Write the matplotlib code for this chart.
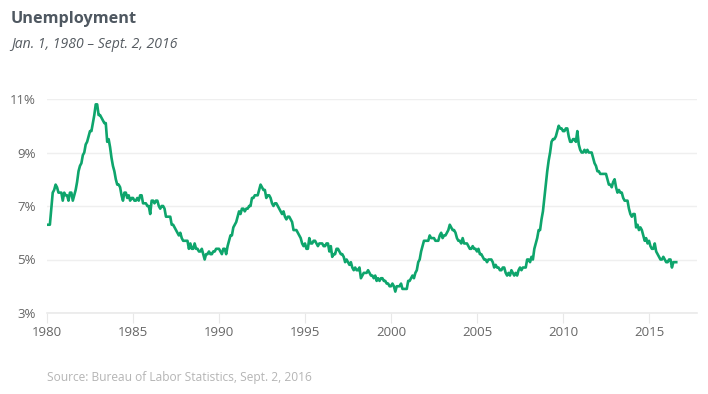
import numpy as np
import pandas as pd
import matplotlib
matplotlib.use('Agg')
import matplotlib.pyplot as plt

# monthly unemployment rate (%), Jan 1980 - Aug 2016
rates_by_year = {
    1980: [6.3, 6.3, 6.3, 6.9, 7.5, 7.6, 7.8, 7.7, 7.5, 7.5, 7.5, 7.2],
    1981: [7.5, 7.4, 7.4, 7.2, 7.5, 7.5, 7.2, 7.4, 7.6, 7.9, 8.3, 8.5],
    1982: [8.6, 8.9, 9.0, 9.3, 9.4, 9.6, 9.8, 9.8, 10.1, 10.4, 10.8, 10.8],
    1983: [10.4, 10.4, 10.3, 10.2, 10.1, 10.1, 9.4, 9.5, 9.2, 8.8, 8.5, 8.3],
    1984: [8.0, 7.8, 7.8, 7.7, 7.4, 7.2, 7.5, 7.5, 7.3, 7.4, 7.2, 7.3],
    1985: [7.3, 7.2, 7.2, 7.3, 7.2, 7.4, 7.4, 7.1, 7.1, 7.1, 7.0, 7.0],
    1986: [6.7, 7.2, 7.2, 7.1, 7.2, 7.2, 7.0, 6.9, 7.0, 7.0, 6.9, 6.6],
    1987: [6.6, 6.6, 6.6, 6.3, 6.3, 6.2, 6.1, 6.0, 5.9, 6.0, 5.8, 5.7],
    1988: [5.7, 5.7, 5.7, 5.4, 5.6, 5.4, 5.4, 5.6, 5.4, 5.4, 5.3, 5.3],
    1989: [5.4, 5.2, 5.0, 5.2, 5.2, 5.3, 5.2, 5.2, 5.3, 5.3, 5.4, 5.4],
    1990: [5.4, 5.3, 5.2, 5.4, 5.4, 5.2, 5.5, 5.7, 5.9, 5.9, 6.2, 6.3],
    1991: [6.4, 6.6, 6.8, 6.7, 6.9, 6.9, 6.8, 6.9, 6.9, 7.0, 7.0, 7.3],
    1992: [7.3, 7.4, 7.4, 7.4, 7.6, 7.8, 7.7, 7.6, 7.6, 7.3, 7.4, 7.4],
    1993: [7.3, 7.1, 7.0, 7.1, 7.1, 7.0, 6.9, 6.8, 6.7, 6.8, 6.6, 6.5],
    1994: [6.6, 6.6, 6.5, 6.4, 6.1, 6.1, 6.1, 6.0, 5.9, 5.8, 5.6, 5.5],
    1995: [5.6, 5.4, 5.4, 5.8, 5.6, 5.6, 5.7, 5.7, 5.6, 5.5, 5.6, 5.6],
    1996: [5.6, 5.5, 5.5, 5.6, 5.6, 5.3, 5.5, 5.1, 5.2, 5.2, 5.4, 5.4],
    1997: [5.3, 5.2, 5.2, 5.1, 4.9, 5.0, 4.9, 4.8, 4.9, 4.7, 4.6, 4.7],
    1998: [4.6, 4.6, 4.7, 4.3, 4.4, 4.5, 4.5, 4.5, 4.6, 4.5, 4.4, 4.4],
    1999: [4.3, 4.4, 4.2, 4.3, 4.2, 4.3, 4.3, 4.2, 4.2, 4.1, 4.1, 4.0],
    2000: [4.0, 4.1, 4.0, 3.8, 4.0, 4.0, 4.0, 4.1, 3.9, 3.9, 3.9, 3.9],
    2001: [4.2, 4.2, 4.3, 4.4, 4.3, 4.5, 4.6, 4.9, 5.0, 5.3, 5.5, 5.7],
    2002: [5.7, 5.7, 5.7, 5.9, 5.8, 5.8, 5.8, 5.7, 5.7, 5.7, 5.9, 6.0],
    2003: [5.8, 5.9, 5.9, 6.0, 6.1, 6.3, 6.2, 6.1, 6.1, 6.0, 5.8, 5.7],
    2004: [5.7, 5.6, 5.8, 5.6, 5.6, 5.6, 5.5, 5.4, 5.4, 5.5, 5.4, 5.4],
    2005: [5.3, 5.4, 5.2, 5.2, 5.1, 5.0, 5.0, 4.9, 5.0, 5.0, 5.0, 4.9],
    2006: [4.7, 4.8, 4.7, 4.7, 4.6, 4.6, 4.7, 4.7, 4.5, 4.4, 4.5, 4.4],
    2007: [4.6, 4.5, 4.4, 4.5, 4.4, 4.6, 4.7, 4.6, 4.7, 4.7, 4.7, 5.0],
    2008: [5.0, 4.9, 5.1, 5.0, 5.4, 5.6, 5.8, 6.1, 6.1, 6.5, 6.8, 7.3],
    2009: [7.8, 8.3, 8.7, 9.0, 9.4, 9.5, 9.5, 9.6, 9.8, 10.0, 9.9, 9.9],
    2010: [9.8, 9.8, 9.9, 9.9, 9.6, 9.4, 9.4, 9.5, 9.5, 9.4, 9.8, 9.3],
    2011: [9.1, 9.0, 9.0, 9.1, 9.0, 9.1, 9.0, 9.0, 9.0, 8.8, 8.6, 8.5],
    2012: [8.3, 8.3, 8.2, 8.2, 8.2, 8.2, 8.2, 8.0, 7.8, 7.8, 7.7, 7.9],
    2013: [8.0, 7.7, 7.5, 7.6, 7.5, 7.5, 7.3, 7.2, 7.2, 7.2, 6.9, 6.7],
    2014: [6.6, 6.7, 6.7, 6.2, 6.3, 6.1, 6.2, 6.1, 5.9, 5.7, 5.8, 5.6],
    2015: [5.7, 5.5, 5.4, 5.4, 5.6, 5.3, 5.2, 5.1, 5.0, 5.0, 5.1, 5.0],
    2016: [4.9, 4.9, 5.0, 5.0, 4.7, 4.9, 4.9, 4.9],
}

yticks = [3, 5, 7, 9, 11]
xticks = [1980, 1985, 1990, 1995, 2000, 2005, 2010, 2015]

rates = []
dates = []
for yr, vals in rates_by_year.items():
    for m, v in enumerate(vals):
        dates.append(yr + m / 12.0)
        rates.append(v)

plt.rcParams['font.family'] = ['Open Sans', 'DejaVu Sans']

fig = plt.figure(figsize=(7.08, 3.94), dpi=100)
ax = fig.add_axes([47/708, (394-313)/394, (697-47)/708, (313-99)/394])

ax.plot(dates, rates, color='#0ea56c', linewidth=1.9, solid_joinstyle='round', zorder=3)

ax.set_xlim(1980, 1980 + (697-47)/17.2)
ax.set_ylim(3, 11)
ax.set_yticks(yticks)
ax.set_yticklabels([str(t) + '%' for t in yticks])
ax.set_xticks(xticks)
ax.set_xticklabels([str(t) for t in xticks])

ax.grid(axis='y', color='#efefef', linewidth=1)
ax.set_axisbelow(True)
for s in ['top', 'right', 'left']:
    ax.spines[s].set_visible(False)
ax.spines['bottom'].set_color('#eaeaea')
ax.spines['bottom'].set_linewidth(1.2)
ax.tick_params(axis='y', length=0, pad=8, labelsize=9.5, labelcolor='#666666')
ax.tick_params(axis='x', length=7, width=0.8, color='#e8e8e8', pad=2, labelsize=9.5, labelcolor='#666666')

fig.text(11/708, 1 - 19/394, 'Unemployment', fontsize=11.7, fontweight='bold',
         color='#4f5861', va='center')
fig.text(11/708, 1 - 45/394, 'Jan. 1, 1980 \u2013 Sept. 2, 2016', fontsize=10.1,
         style='italic', color='#555b61', va='center')
fig.text(47/708, 1 - 377/394, 'Source: Bureau of Labor Statistics, Sept. 2, 2016',
         fontsize=8.65, color='#b5b5b5', va='center')

fig.savefig('out.png', dpi=100, facecolor='white')
